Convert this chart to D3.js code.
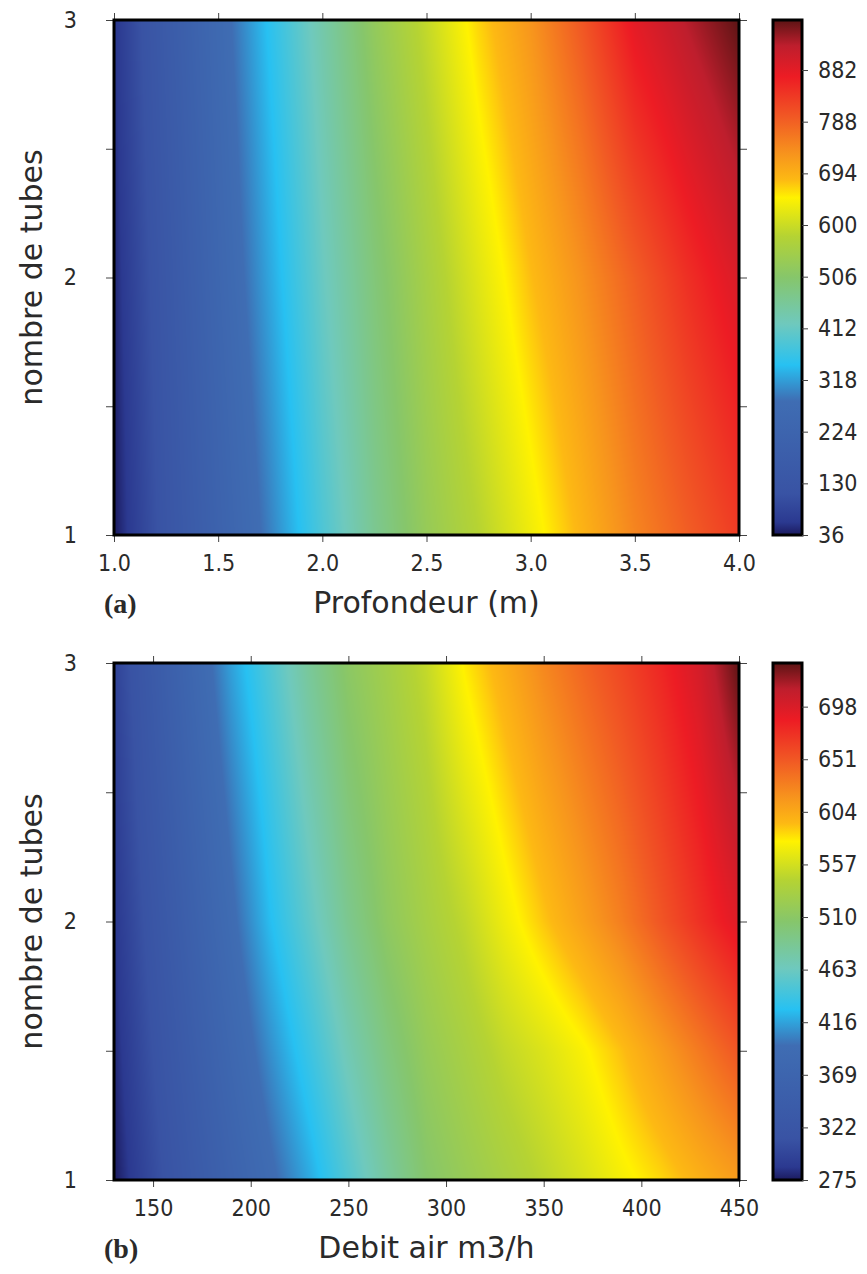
<!DOCTYPE html>
<html>
<head>
<meta charset="utf-8">
<script src="https://cdn.jsdelivr.net/npm/d3@7"></script>
<style>
  body { margin: 0; background: #fff; }
  svg { display: block; }
  text { font-family: "DejaVu Sans", sans-serif; fill: #2a2a2a; }
  .tick text { font-family: "DejaVu Sans Condensed", "DejaVu Sans", sans-serif; font-stretch: condensed; font-size: 23px; }
  .tick line { stroke: #444; }
</style>
</head>
<body>
<svg width="867" height="1274"></svg>
<script>
// shared y axis: number of tubes
var tubesY = [1, 1.5, 2, 2.5, 3];
var tubesTicks = [1, 1.5, 2, 2.5, 3];

// panel (a): depth in metres
var depthX = [1.0, 1.25, 1.5, 1.75, 2.0, 2.25, 2.5, 2.75, 3.0, 3.25, 3.5, 3.75, 4.0];
var depthVals = [
    [36, 125, 210, 295, 385, 465, 530, 580, 635, 690, 746, 790, 832],
    [40, 132, 222, 310, 400, 478, 543, 600, 657, 711, 768, 818, 863],
    [45, 140, 235, 325, 414, 490, 556, 620, 680, 733, 790, 846, 895],
    [50, 150, 245, 338, 427, 507, 574, 643, 704, 766, 836, 888, 934],
    [55, 160, 255, 352, 440, 525, 593, 667, 728, 800, 882, 930, 973]
];
var depthTicks = [1.0, 1.5, 2.0, 2.5, 3.0, 3.5, 4.0];
var depthRange = [36, 973];
var depthCbarTicks = [36, 130, 224, 318, 412, 506, 600, 694, 788, 882];

// panel (b): air flow m3/h
var flowX = [130, 150, 170, 190, 210, 230, 250, 270, 290, 310, 330, 350, 370, 390, 410, 430, 450];
var flowVals = [
    [275, 304, 333, 362, 390, 418, 450, 480, 506, 520, 533, 546, 559, 573, 585, 599, 612],
    [280, 312, 344, 376, 408, 438, 469, 496, 518, 533, 549, 561, 575, 592, 612, 632, 652],
    [285, 320, 355, 390, 426, 457, 488, 513, 531, 548, 570, 590, 609, 629, 652, 674, 695],
    [290, 328, 365, 402, 437, 470, 500, 521, 540, 564, 586, 607, 626, 645, 666, 688, 716],
    [295, 335, 375, 415, 449, 483, 511, 529, 550, 580, 602, 624, 643, 661, 680, 702, 737]
];
var flowTicks = [150, 200, 250, 300, 350, 400, 450];
var flowRange = [275, 737];
var flowCbarTicks = [275, 322, 369, 416, 463, 510, 557, 604, 651, 698];

// colour map (fraction of the colour bar -> colour)
var cmapStops = [0, 0.025, 0.08, 0.26, 0.33, 0.41, 0.5, 0.58, 0.655, 0.69, 0.74, 0.81, 0.89, 0.95, 1];
var cmapColors = ['#1b1a5e', '#2b3990', '#3953a4', '#3f6db3', '#27c1f2', '#6fc9bd', '#86c66b', '#b5d333',
    '#fff200', '#fdb913', '#f7941d', '#f15a24', '#ed1c24', '#be1e2d', '#5c1414'];

var svg = d3.select('svg');
var left = 114, right = 739;
var cbarX0 = 773, cbarX1 = 802;

var cmap = d3.scaleLinear().domain(cmapStops).range(cmapColors).interpolate(d3.interpolateRgb).clamp(true);

function drawPanel(p) {
    var x = d3.scaleLinear().domain(p.xDomain).range([left, right]);
    var y = d3.scaleLinear().domain([1, 3]).range([p.bottom, p.top]);
    var norm = d3.scaleLinear().domain(p.range).range([0, 1]);

    // heat map, shaded between grid points
    var w = right - left, h = p.bottom - p.top;
    var canvas = document.createElement('canvas');
    canvas.width = w;
    canvas.height = h;
    var ctx = canvas.getContext('2d');
    var img = ctx.createImageData(w, h);
    for (var j = 0; j < h; j++) {
        var yv = y.invert(p.top + j + 0.5);
        var r = Math.min(Math.max(d3.bisectRight(tubesY, yv) - 1, 0), tubesY.length - 2);
        var fy = Math.min(Math.max((yv - tubesY[r]) / (tubesY[r + 1] - tubesY[r]), 0), 1);
        for (var i = 0; i < w; i++) {
            var xv = x.invert(left + i + 0.5);
            var c = Math.min(Math.max(d3.bisectRight(p.xs, xv) - 1, 0), p.xs.length - 2);
            var fx = Math.min(Math.max((xv - p.xs[c]) / (p.xs[c + 1] - p.xs[c]), 0), 1);
            var v0 = p.vals[r][c] * (1 - fx) + p.vals[r][c + 1] * fx;
            var v1 = p.vals[r + 1][c] * (1 - fx) + p.vals[r + 1][c + 1] * fx;
            var col = d3.rgb(cmap(norm(v0 * (1 - fy) + v1 * fy)));
            var k = (j * w + i) * 4;
            img.data[k] = col.r;
            img.data[k + 1] = col.g;
            img.data[k + 2] = col.b;
            img.data[k + 3] = 255;
        }
    }
    ctx.putImageData(img, 0, 0);
    svg.append('image')
        .attr('x', left).attr('y', p.top)
        .attr('width', w).attr('height', h)
        .attr('preserveAspectRatio', 'none')
        .attr('href', canvas.toDataURL());

    // axes
    svg.append('g')
        .attr('transform', 'translate(0,' + p.bottom + ')')
        .call(d3.axisBottom(x).tickValues(p.xTicks).tickSize(7).tickPadding(13).tickFormat(p.fmt))
        .call(function(g) { g.select('.domain').remove(); });
    svg.append('g')
        .attr('transform', 'translate(0,' + p.top + ')')
        .call(d3.axisTop(x).tickValues(p.xTicks).tickSize(7).tickFormat(''))
        .call(function(g) { g.select('.domain').remove(); });
    svg.append('g')
        .attr('transform', 'translate(' + left + ',0)')
        .call(d3.axisLeft(y).tickValues(tubesTicks).tickSize(8).tickPadding(29)
            .tickFormat(function(d) { return Number.isInteger(d) ? d : ''; }))
        .call(function(g) { g.select('.domain').remove(); });
    svg.append('g')
        .attr('transform', 'translate(' + right + ',0)')
        .call(d3.axisRight(y).tickValues(tubesTicks).tickSize(8).tickFormat(''))
        .call(function(g) { g.select('.domain').remove(); });

    svg.append('rect')
        .attr('x', left).attr('y', p.top)
        .attr('width', w).attr('height', h)
        .attr('fill', 'none').attr('stroke', '#000').attr('stroke-width', 3);

    // colour bar
    var gradId = 'grad' + p.id;
    var grad = svg.append('defs').append('linearGradient')
        .attr('id', gradId)
        .attr('x1', 0).attr('y1', 1).attr('x2', 0).attr('y2', 0);
    grad.selectAll('stop').data(cmapStops).enter().append('stop')
        .attr('offset', function(d) { return d; })
        .attr('stop-color', function(d, i) { return cmapColors[i]; });
    svg.append('rect')
        .attr('x', cbarX0).attr('y', p.top)
        .attr('width', cbarX1 - cbarX0).attr('height', h)
        .attr('fill', 'url(#' + gradId + ')')
        .attr('stroke', '#000').attr('stroke-width', 3);
    var cy = d3.scaleLinear().domain(p.range).range([p.bottom, p.top]);
    svg.append('g')
        .attr('transform', 'translate(' + cbarX1 + ',0)')
        .call(d3.axisRight(cy).tickValues(p.cbarTicks).tickSize(6).tickPadding(10))
        .call(function(g) { g.select('.domain').remove(); });

    // labels
    svg.append('text')
        .attr('transform', 'translate(42,' + (p.top + p.bottom) / 2 + ') rotate(-90)')
        .attr('text-anchor', 'middle')
        .style('font-size', '30px')
        .text('nombre de tubes');
    svg.append('text')
        .attr('x', (left + right) / 2).attr('y', p.bottom + 78)
        .attr('text-anchor', 'middle')
        .style('font-size', '30px')
        .text(p.xLabel);
    svg.append('text')
        .attr('x', 104).attr('y', p.bottom + 78)
        .style('font-family', '"Liberation Serif", serif')
        .style('font-weight', 'bold')
        .style('font-size', '28px')
        .text(p.tag);
}

drawPanel({
    id: 'a', top: 20, bottom: 535,
    xs: depthX, vals: depthVals, xDomain: [1, 4],
    xTicks: depthTicks, fmt: d3.format('.1f'),
    range: depthRange, cbarTicks: depthCbarTicks,
    xLabel: 'Profondeur (m)', tag: '(a)'
});

drawPanel({
    id: 'b', top: 663, bottom: 1180,
    xs: flowX, vals: flowVals, xDomain: [130, 450],
    xTicks: flowTicks, fmt: d3.format('d'),
    range: flowRange, cbarTicks: flowCbarTicks,
    xLabel: 'Debit air m3/h', tag: '(b)'
});
</script>
</body>
</html>
